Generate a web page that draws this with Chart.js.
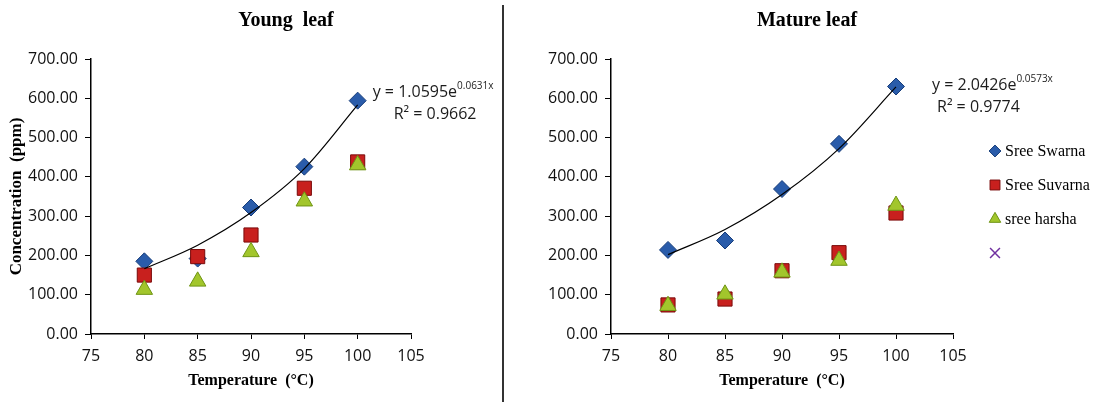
<!DOCTYPE html>
<html lang="en">
<head>
<meta charset="UTF-8">
<title>Young leaf / Mature leaf</title>
<script src="https://cdn.jsdelivr.net/npm/chart.js@4.4.1/dist/chart.umd.min.js"></script>
<style>
    body {
        margin: 0;
        background: #ffffff;
        width: 1099px;
        height: 402px;
        position: relative;
        overflow: hidden;
    }
    .panel { position: absolute; top: 0; height: 402px; }
    #panelYoung { left: 0; width: 503px; }
    #panelMature { left: 504px; width: 595px; }
    #divider { position: absolute; left: 502px; top: 5px; width: 2px; height: 397px; background: #333; }
</style>
</head>
<body>

<div id="panelYoung" class="panel"><canvas id="young"></canvas></div>
<div id="divider"></div>
<div id="panelMature" class="panel"><canvas id="mature"></canvas></div>

<script>
    // temperatures (°C)
    const temps = [80, 85, 90, 95, 100];
    const xTicks = [75, 80, 85, 90, 95, 100, 105];
    const yTicks = [0, 100, 200, 300, 400, 500, 600, 700];

    const seriesNames = ['Sree Swarna', 'Sree Suvarna', 'sree harsha'];

    // young leaf concentration (ppm)
    const youngSwarna  = [185, 192, 322, 426, 594];
    const youngSuvarna = [150, 197, 252, 371, 438];
    const youngHarsha  = [113, 134, 209, 338, 430];
    const youngTrend   = [166, 226, 309, 421, 583];

    // mature leaf concentration (ppm)
    const matureSwarna  = [214, 238, 369, 484, 630];
    const matureSuvarna = [74, 89, 161, 207, 308];
    const matureHarsha  = [72, 101, 157, 187, 327];
    const matureTrend   = [202, 266, 355, 472, 629];

    const youngEq  = { a: '1.0595', b: '0.0631', r2: '0.9662' };
    const matureEq = { a: '2.0426', b: '0.0573', r2: '0.9774' };

    const pts = vals => vals.map((v, i) => ({ x: temps[i], y: v }));

    const tickFont = { family: "'Open Sans', sans-serif", size: 16 };
    const serifBold = size => ({ family: "'Liberation Serif', 'Times New Roman', serif", size: size, weight: 'bold' });

    // title, trendline equation and (optionally) legend
    const panelText = {
        id: 'panelText',
        afterDraw(chart, args, opts) {
            const { ctx, scales } = chart;
            ctx.save();
            ctx.fillStyle = '#000';
            ctx.textBaseline = 'middle';

            ctx.font = "bold 20px 'Liberation Serif', serif";
            ctx.textAlign = 'center';
            ctx.fillText(opts.title, opts.titleX, 21);

            // equation next to the last Sree Swarna point
            const px = scales.x.getPixelForValue(temps[4]);
            const py = scales.y.getPixelForValue(opts.anchorY);
            ctx.textAlign = 'left';
            ctx.fillStyle = '#1c1c1c';
            ctx.font = "16px 'Open Sans', sans-serif";
            const main = 'y = ' + opts.eq.a + 'e';
            const ex = px + opts.eqDx;
            const ey = py + opts.eqDy;
            ctx.fillText(main, ex, ey);
            const w = ctx.measureText(main).width;
            ctx.font = "10px 'Open Sans', sans-serif";
            ctx.fillText(opts.eq.b + 'x', ex + w, ey - 6);
            ctx.font = "16px 'Open Sans', sans-serif";
            ctx.fillText('R\u00B2 = ' + opts.eq.r2, px + opts.r2Dx, ey + 22);

            if (opts.legend) {
                const lx = chart.chartArea.right + 42;
                let ly = 151;
                chart.data.datasets.forEach(ds => {
                    if (ds.isTrend) return;
                    ctx.fillStyle = ds.backgroundColor;
                    ctx.strokeStyle = ds.borderColor;
                    ctx.lineWidth = ds.borderWidth;
                    Chart.helpers.drawPoint(ctx, {
                        pointStyle: ds.pointStyle,
                        radius: ds.pointRadius * 0.7,
                        rotation: 0,
                        borderWidth: ds.borderWidth
                    }, lx, ly);
                    if (ds.label) {
                        ctx.fillStyle = '#000';
                        ctx.font = "16px 'Liberation Serif', serif";
                        ctx.fillText(ds.label, lx + 10, ly + 1);
                    }
                    ly += 34;
                });
            }
            ctx.restore();
        }
    };

    function makeDatasets(sw, su, ha, tr, withX) {
        const list = [
            {
                label: 'trend', isTrend: true, data: pts(tr), showLine: true,
                borderColor: '#000', borderWidth: 1.2, pointRadius: 0,
                cubicInterpolationMode: 'monotone', order: 0
            },
            {
                label: seriesNames[0], data: pts(sw), pointStyle: 'rectRot', pointRadius: 8.5,
                backgroundColor: '#2A5CAA', borderColor: '#173D7A', borderWidth: 1, order: 3
            },
            {
                label: seriesNames[1], data: pts(su), pointStyle: 'rect', pointRadius: 10,
                backgroundColor: '#C8201E', borderColor: '#7A0A0A', borderWidth: 1, order: 2
            },
            {
                label: seriesNames[2], data: pts(ha), pointStyle: 'triangle', pointRadius: 9.5,
                backgroundColor: '#A2C62C', borderColor: '#6E9414', borderWidth: 1, order: 1
            }
        ];
        if (withX) {
            list.push({
                label: '', data: [], pointStyle: 'crossRot', pointRadius: 10,
                backgroundColor: '#7030A0', borderColor: '#7030A0', borderWidth: 1.5, order: 4
            });
        }
        return list;
    }

    function makeChart(canvasId, datasets, yWidth, padRight, showYTitle, textOpts) {
        return new Chart(document.getElementById(canvasId), {
            type: 'scatter',
            data: { datasets: datasets },
            plugins: [panelText],
            options: {
                responsive: true,
                maintainAspectRatio: false,
                animation: false,
                layout: { padding: { top: 59, right: padRight, bottom: 0, left: 0 } },
                plugins: {
                    legend: { display: false },
                    tooltip: { enabled: false },
                    panelText: textOpts
                },
                scales: {
                    x: {
                        type: 'linear', min: xTicks[0], max: xTicks[xTicks.length - 1],
                        afterBuildTicks: s => { s.ticks = xTicks.map(v => ({ value: v })); },
                        ticks: { font: tickFont, color: '#111', padding: 8 },
                        grid: { drawOnChartArea: false, drawTicks: true, tickLength: 5, color: '#000' },
                        border: { display: true, color: '#000', width: 1.5 },
                        title: {
                            display: true, text: 'Temperature  (°C)', color: '#000',
                            font: serifBold(16), padding: { top: 0, bottom: 12 }
                        },
                        afterFit: s => { s.height = 68; }
                    },
                    y: {
                        min: yTicks[0], max: yTicks[yTicks.length - 1],
                        afterBuildTicks: s => { s.ticks = yTicks.map(v => ({ value: v })); },
                        ticks: { font: tickFont, color: '#111', padding: 7, callback: v => v.toFixed(2) },
                        grid: { drawOnChartArea: false, drawTicks: true, tickLength: 6, color: '#000' },
                        border: { display: true, color: '#000', width: 1.5 },
                        title: {
                            display: showYTitle, text: 'Concentration  (ppm)', color: '#000',
                            font: serifBold(17), padding: { top: 6, bottom: 0 }
                        },
                        afterFit: s => { s.width = yWidth; }
                    }
                }
            }
        });
    }

    makeChart('young', makeDatasets(youngSwarna, youngSuvarna, youngHarsha, youngTrend, false),
        91, 92, true,
        { title: 'Young  leaf', titleX: 286, eq: youngEq, anchorY: 600, eqDx: 15, eqDy: -6, r2Dx: 36, legend: false });

    makeChart('mature', makeDatasets(matureSwarna, matureSuvarna, matureHarsha, matureTrend, true),
        107, 146, false,
        { title: 'Mature leaf', titleX: 303, eq: matureEq, anchorY: 600, eqDx: 36, eqDy: -13, r2Dx: 41, legend: true });
</script>

</body>
</html>
